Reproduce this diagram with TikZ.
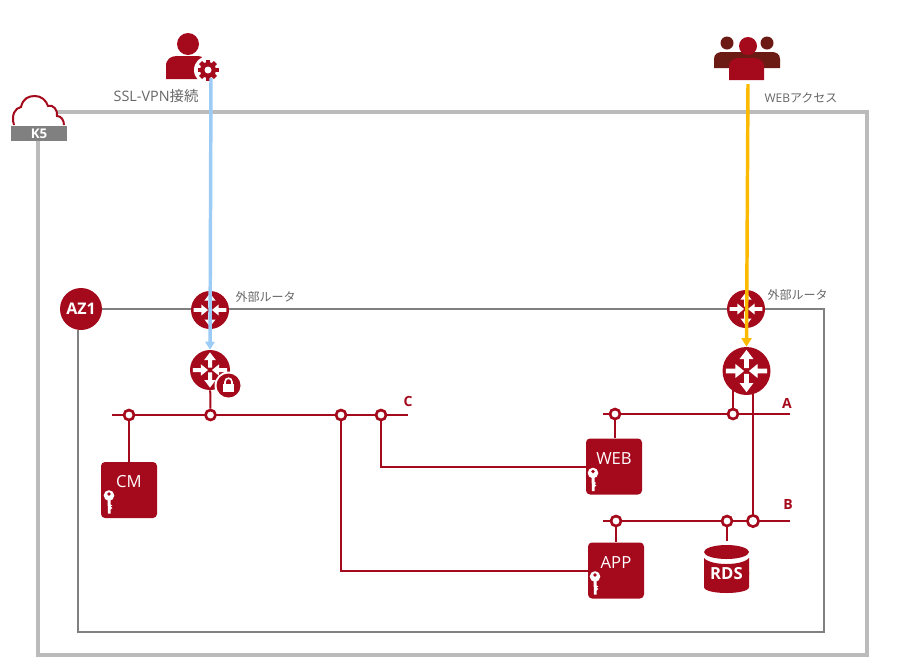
\documentclass[tikz,border=0pt]{standalone}
\usepackage{xcolor}
\usepackage{fontspec}
\usepackage{tikz}
\usetikzlibrary{arrows.meta,backgrounds}
\setmainfont{Open Sans}
\newfontfamily\jpfont{Noto Sans CJK JP}
\definecolor{k5red}{HTML}{A50A1C}
\definecolor{k5dark}{HTML}{6B1A14}
\definecolor{framegray}{HTML}{BBBBBB}
\definecolor{azgray}{HTML}{808080}
\definecolor{textgray}{HTML}{666666}
\definecolor{sslblue}{HTML}{9CCBF5}
\definecolor{webyellow}{HTML}{FBB900}
\tikzset{
    routerarrows/.pic={
        \foreach \a in {0,180} {
            \fill[white, rotate=\a] (-0.86,-0.1) -- (-0.46,-0.1) -- (-0.46,-0.29) -- (-0.1,0) -- (-0.46,0.29) -- (-0.46,0.1) -- (-0.86,0.1) -- cycle;
            \fill[white, rotate=\a] (-0.1,0.12) -- (-0.1,0.5) -- (-0.29,0.5) -- (0,0.88) -- (0.29,0.5) -- (0.1,0.5) -- (0.1,0.12) -- cycle;
        }
    },
    keyicon/.pic={
        \fill[white] (0,0) circle (5.3);
        \fill[k5red] (0,-1.5) circle (1.9);
        \fill[white] (-1.5,3) -- (1.5,3) -- (1.5,9) -- (3.4,10) -- (1.5,11) -- (3.4,12.5) -- (1.5,14) -- (1.5,18) -- (-1,18) -- cycle;
    },
    router/.style={circle, fill=k5red, inner sep=0pt},
    junction/.style={circle, draw=k5red, fill=white, line width=2pt, minimum size=7.5pt, inner sep=0pt},
    server/.style={rectangle, fill=k5red, rounded corners=3pt, minimum size=42pt, inner sep=0pt},
    serverlabel/.style={text=white, font=\fontsize{12.5}{14}\selectfont, yshift=6pt},
    netline/.style={draw=k5red, line width=1.5pt},
    greytext/.style={text=textgray, font=\fontsize{9}{11}\selectfont},
    netlabel/.style={text=k5red, font=\fontsize{10.5}{12}\selectfont\bfseries}
}

\begin{document}
\begin{tikzpicture}[x=0.75pt, y=-0.75pt]
    \useasboundingbox (0,0) rectangle (914,665);

    % Admin user
    \fill[k5red] (188,44) circle (11);
    \fill[k5red] (166,79) -- (166,66) .. controls (166,59) and (171,56) .. (177,56) -- (198,56) .. controls (203,56) and (206,60) .. (206,64) -- (206,79) -- cycle;
    \fill[white] (208,70) circle (14);
    \foreach \a in {0,45,...,315} {
        \fill[k5red, shift={(208,70)}, rotate=\a] (-2.2,-10.5) rectangle (2.2,0);
    }
    \fill[k5red] (208,70) circle (8);
    \fill[white] (208,70) circle (3.5);

    % Web users
    \fill[k5dark] (727,43) circle (6.5);
    \fill[k5dark] (767,43) circle (6.5);
    \fill[k5dark] (714,68) -- (714,59) .. controls (714,54) and (718,52) .. (722,52) -- (772,52) .. controls (776,52) and (780,54) .. (780,59) -- (780,68) -- cycle;
    \fill[k5red] (748,46) circle (9);
    \fill[k5red] (729,80) -- (729,66) .. controls (729,61) and (733,59) .. (738,58) -- (755,58) .. controls (760,59) and (764,61) .. (764,66) -- (764,80) -- cycle;

    % K5 cloud
    \draw[k5red, line width=1.5pt] (14,125) .. controls (11,115) and (15,108) .. (21,107)
        .. controls (23,98) and (29,96) .. (35,96) .. controls (41,96) and (46,100) .. (48,106)
        .. controls (53,104) and (58,110) .. (57,116) .. controls (61,116) and (64,120) .. (64,125);
    \node[fill=azgray, text=white, minimum width=42pt, minimum height=11.5pt, inner sep=0pt, font=\fontsize{10}{11}\selectfont\bfseries] (k5) at (39,133.5) {K5};

    % AZ1 and routers
    \node[router, minimum size=31.5pt, text=white, font=\fontsize{12}{12}\selectfont\bfseries] (az1) at (81,309) {AZ1};
    \node[router, minimum size=28.5pt] (extL) at (210,310) {};
    \node[router, minimum size=28.5pt] (extR) at (746,309) {};
    \node[router, minimum size=30pt] (vpn) at (210,370) {};
    \node[router, minimum size=36pt] (rtr) at (746.5,371) {};
    \pic[scale=19] at (extL) {routerarrows};
    \pic[scale=19] at (extR) {routerarrows};
    \pic[scale=20] at (vpn) {routerarrows};
    \pic[scale=24] at (rtr) {routerarrows};

    % Lock badge
    \fill[white] (228.5,385.5) circle (14);
    \fill[k5red] (228.5,385.5) circle (12);
    \fill[white] (223,384) rectangle (234,392);
    \draw[white, line width=1.2pt] (225,385) -- (225,382) .. controls (225,377) and (232,377) .. (232,382) -- (232,385);

    % Servers
    \node[server, label={[serverlabel]center:CM}] (cm) at (129,490) {};
    \node[server, label={[serverlabel]center:WEB}] (web) at (614,466.5) {};
    \node[server, label={[serverlabel]center:APP}] (app) at (616,570.5) {};
    \pic at (109,495.5) {keyicon};
    \pic at (593,473) {keyicon};
    \pic at (595,576.5) {keyicon};

    % RDS
    \fill[k5red] (704,572) -- (704,587) .. controls (704,595) and (749,595) .. (749,587) -- (749,572) -- cycle;
    \fill[k5red] (704,558) .. controls (711,566) and (742,566) .. (749,558) -- (749,575) -- (704,575) -- cycle;
    \fill[k5red] (726.5,552) ellipse (22.5 and 7);
    \draw[white, line width=1.2pt] (704,555) .. controls (711,563) and (742,563) .. (749,555);
    \node[minimum width=33.75pt, minimum height=49.5pt, inner sep=0pt, text=white, font=\fontsize{12.5}{14}\selectfont\bfseries] (rds) at (726.5,574) {RDS};

    % Junctions
    \node[junction] (c1) at (129,415) {};
    \node[junction] (c2) at (210.5,415) {};
    \node[junction] (c3) at (341,415) {};
    \node[junction] (c4) at (381,415) {};
    \node[junction] (a1) at (615,414) {};
    \node[junction] (a2) at (733,414) {};
    \node[junction] (b1) at (616,521) {};
    \node[junction] (b2) at (727,521) {};
    \node[junction, minimum size=8.5pt] (b3) at (753,521) {};

    % Frame corners and bus ends
    \coordinate (k5tr) at (867,112);
    \coordinate (k5br) at (867,655);
    \coordinate (k5bl) at (38,655);
    \coordinate (k5tl) at (57,112);
    \coordinate (aztr) at (824,309);
    \coordinate (azbr) at (824,632);
    \coordinate (azbl) at (78,632);
    \coordinate (cL) at (112,415);
    \coordinate (cR) at (408,415);
    \coordinate (aL) at (603,414);
    \coordinate (aR) at (790,414);
    \coordinate (bL) at (603,521);
    \coordinate (bR) at (790,521);

    % Lines behind the nodes
    \begin{scope}[on background layer]
        \draw[framegray, line width=3pt] (k5tl) -- (k5tr) -- (k5br) -- (k5bl) -- (k5bl |- k5.south);
        \draw[azgray, line width=1.8pt] (az1) -- (aztr) -- (azbr) -- (azbl) -- (azbl |- az1.south);
        \draw[netline] (cL) -- (cR);
        \draw[netline] (aL) -- (aR);
        \draw[netline] (bL) -- (bR);
        \draw[netline] (c1) -- (cm);
        \draw[netline] (c2) -- (vpn);
        \draw[netline] (c3) |- (app);
        \draw[netline] (c4) |- (web);
        \draw[netline] (a1) -- (a1 |- web.north);
        \draw[netline] (a2) -- (a2 |- rtr);
        \draw[netline] (b3) -- (b3 |- rtr);
        \draw[netline] (b1) -- (b1 |- app.north);
        \draw[netline] (b2) -- (b2 |- rds.north);
    \end{scope}

    % Access arrows
    \coordinate (sslstart) at (211,78);
    \coordinate (webstart) at (748,84);
    \draw[sslblue, line width=2.6pt, -{Triangle[length=6pt,width=7pt]}] (sslstart) -- (vpn.north);
    \draw[webyellow, line width=2.6pt, -{Triangle[length=6.5pt,width=7.5pt]}] (webstart) -- (rtr.north);

    % Labels
    \node[greytext, font=\fontsize{10.8}{13}\selectfont] (ssllabel) at (156,96) {SSL-VPN{\jpfont 接続}};
    \node[greytext] (weblabel) at (801,98) {WEB{\jpfont アクセス}};
    \node[greytext] (extLlabel) at (265.5,297) {\jpfont 外部ルータ};
    \node[greytext] (extRlabel) at (797.5,295) {\jpfont 外部ルータ};
    \node[netlabel] (clabel) at (408,401) {C};
    \node[netlabel] (alabel) at (787,403) {A};
    \node[netlabel] (blabel) at (788,504) {B};

\end{tikzpicture}
\end{document}
